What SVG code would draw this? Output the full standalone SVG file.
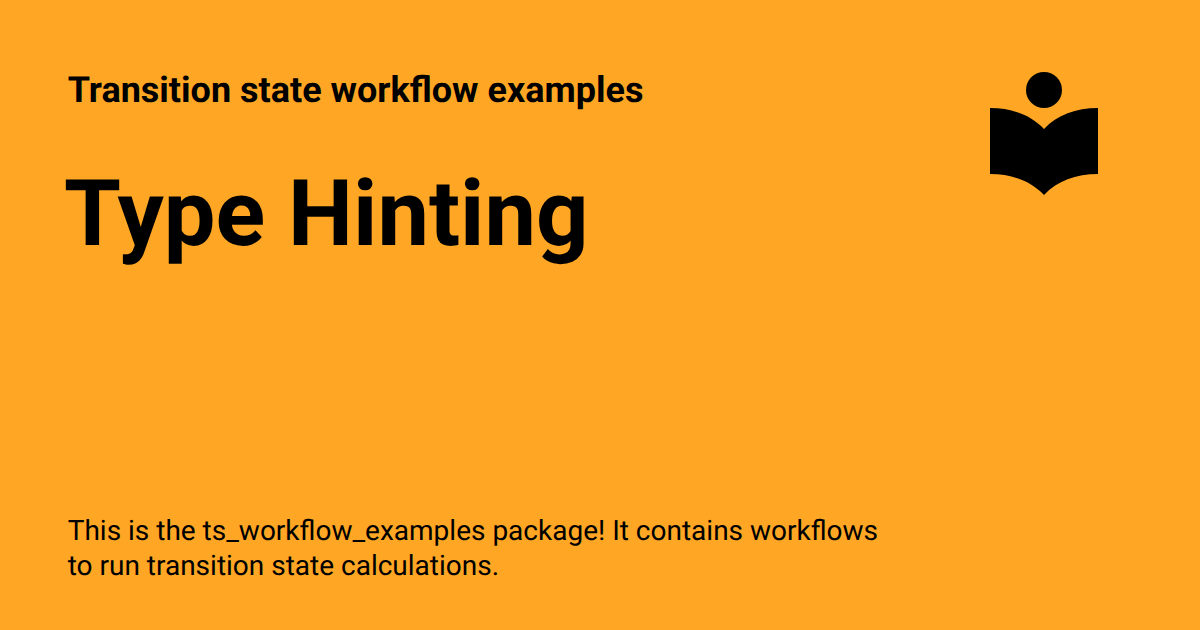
<svg xmlns="http://www.w3.org/2000/svg" width="1200" height="630" viewBox="0 0 1200 630">
<style>text{font-family:Roboto,"Liberation Sans",sans-serif;fill:#000;text-rendering:geometricPrecision}</style>
<rect width="1200" height="630" fill="#ffa724"/>
<text x="67.7" y="101.5" font-size="36" font-weight="700">Transition state workflow examples</text>
<text x="64" y="244.5" font-size="92" font-weight="700">Type Hinting</text>
<text x="67.7" y="540" font-size="28">This is the ts_workflow_examples package! It contains workflows</text>
<text x="67.7" y="575" font-size="28">to run transition state calculations.</text>
<g id="logo"><circle cx="1044" cy="90" r="18"/>
<path d="M990 108C1012 108 1031 115 1044 129C1057 115 1076 108 1098 108V174C1076 174 1057 181 1044 195C1031 181 1012 174 990 174Z"/></g>
</svg>
